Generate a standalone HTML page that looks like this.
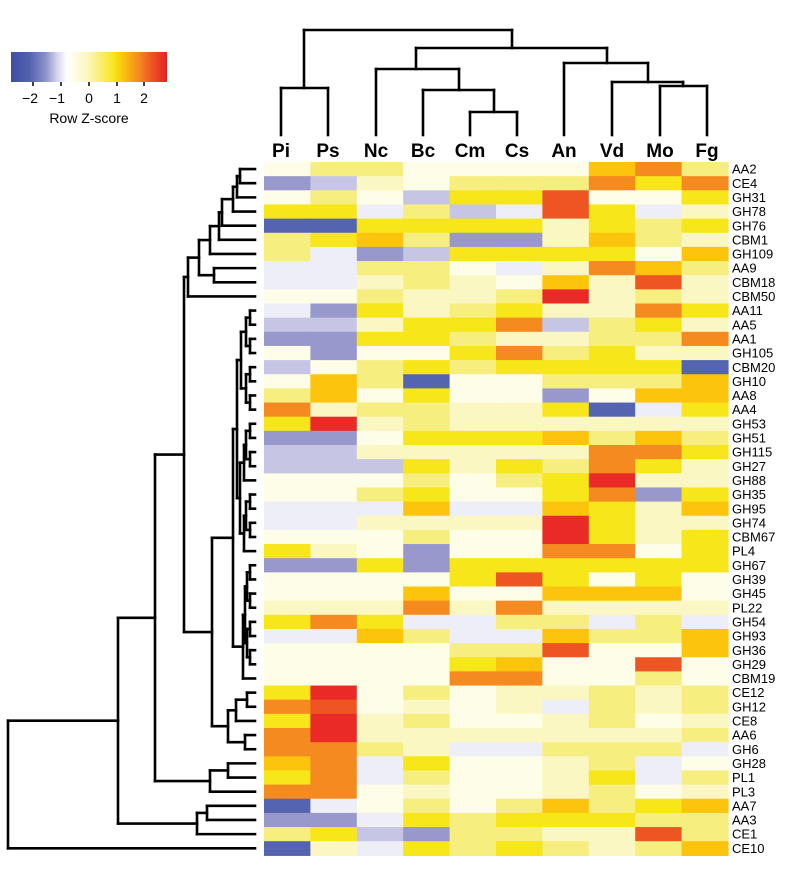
<!DOCTYPE html>
<html><head><meta charset="utf-8"><style>
html,body{margin:0;padding:0;background:#fff;}
svg{display:block;font-family:"Liberation Sans",Arial,sans-serif;}
</style></head><body>
<svg id="s" width="795" height="869" viewBox="0 0 795 869" xmlns="http://www.w3.org/2000/svg">
<defs>
<linearGradient id="cb" x1="0" x2="1" y1="0" y2="0">
<stop offset="0" stop-color="#3f4fa6"/>
<stop offset="0.12" stop-color="#5461ae"/>
<stop offset="0.22" stop-color="#8a90c8"/>
<stop offset="0.3" stop-color="#d8d8ee"/>
<stop offset="0.36" stop-color="#ffffff"/>
<stop offset="0.5" stop-color="#fbf6b8"/>
<stop offset="0.66" stop-color="#f6e61a"/>
<stop offset="0.72" stop-color="#fcc20c"/>
<stop offset="0.82" stop-color="#f48a20"/>
<stop offset="0.9" stop-color="#ef5524"/>
<stop offset="1" stop-color="#e82026"/>
</linearGradient>
</defs>
<rect x="11" y="52" width="156" height="30" fill="url(#cb)"/>
<g stroke="#000" stroke-width="1.5">
<line x1="33" y1="82" x2="33" y2="86"/><line x1="61" y1="82" x2="61" y2="86"/><line x1="89" y1="82" x2="89" y2="86"/><line x1="117" y1="82" x2="117" y2="86"/><line x1="144" y1="82" x2="144" y2="86"/>
</g>
<g font-size="14" text-anchor="middle" fill="#000">
<text x="30" y="103">−2</text><text x="57" y="103">−1</text><text x="89" y="103">0</text><text x="117" y="103">1</text><text x="144" y="103">2</text>
<text x="89" y="123">Row Z-score</text>
</g>
<g id="heat"></g>
<g id="dend" stroke="#000" stroke-width="2.6" fill="none" stroke-linecap="square"></g>
<g id="lab" font-size="13" fill="#000"></g>
<g font-size="19" font-weight="bold" text-anchor="middle" fill="#000">
<text x="281" y="157">Pi</text><text x="328" y="157">Ps</text><text x="376" y="157">Nc</text><text x="423" y="157">Bc</text><text x="470" y="157">Cm</text><text x="517" y="157">Cs</text><text x="564" y="157">An</text><text x="612" y="157">Vd</text><text x="660" y="157">Mo</text><text x="707" y="157">Fg</text>
</g>
</svg>
<script>
(function(){
var C={W:"#fdfde8",w:"#fbf7c2",l:"#f7ee80",Y:"#f6e61a",O:"#fcc40c",o:"#f48a20",R:"#ef5523",r:"#e92a26",b:"#eeeef8",p:"#c6c6e4",P:"#9898cc",D:"#5564b0"};
var rows=[
["AA2","WllWWWWOol"],["CE4","PpwWllloYo"],["GH31","WlWpYYRWWY"],["GH78","YYblpbRYbw"],["GH76","DDYYYYwYlY"],
["CBM1","lYOlPPwOlw"],["GH109","lbPpYYYYWO"],["AA9","bbllWbwoOl"],["CBM18","bbwlwWOwRw"],["CBM50","WWlwwlrwlw"],
["AA11","bPYwlYwwoY"],["AA5","ppwYYoplYw"],["AA1","PPYYlwwllo"],["GH105","WPWWYolYww"],["CBM20","pWlYlYYYYD"],
["GH10","WOlDWWlllO"],["AA8","lOWYWWPWOO"],["AA4","owllwwYDbY"],["GH53","Yrwlwwwwww"],["GH51","PPWYYYOlOl"],
["GH115","ppwwwwwooY"],["GH27","pppYwYloYw"],["GH88","WWWlWlYrww"],["GH35","WWlYWWYoPY"],["GH95","bbbObbOYwO"],
["GH74","bbwwwwrYww"],["CBM67","WWWlWWrYwY"],["PL4","YwWPWWooWY"],["GH67","PPYPYYYYYY"],["GH39","WWWWYRYWYW"],
["GH45","WWWOWWOOOW"],["PL22","wwwowowwww"],["GH54","YoYbbllblb"],["GH93","bbOlbbOllO"],["GH36","WWWWllRWWO"],
["GH29","WWWWYOWWRW"],["CBM19","WWWWooWWlW"],["CE12","YrWlWwwlwl"],["GH12","oRWwWwblwl"],["CE8","YrwlWWwlWw"],
["AA6","orwwwwwwwl"],["GH6","oolwbblllb"],["GH28","OobYWWwlbW"],["PL1","YoblWWwYbl"],["PL3","ooWwWWwlWw"],
["AA7","DbWlWlOlYO"],["AA3","PPbYlYYYll"],["CE1","lYpPllwwRl"],["CE10","DwbYlYlwlO"]];
var ns="http://www.w3.org/2000/svg",X0=264,CW=46.4,Y0=162,RH=14.15;
var heat=document.getElementById("heat"),lab=document.getElementById("lab");
function el(p,t,a){var e=document.createElementNS(ns,t);for(var k in a)e.setAttribute(k,a[k]);p.appendChild(e);return e;}
rows.forEach(function(r,i){
 for(var j=0;j<10;j++)el(heat,"rect",{x:(X0+j*CW).toFixed(2),y:(Y0+i*RH).toFixed(2),width:(CW+0.6).toFixed(2),height:(RH+0.6).toFixed(2),fill:C[r[1][j]]});
 var t=el(lab,"text",{x:732,y:(Y0+(i+0.5)*RH+4.6).toFixed(1)});t.textContent=r[0];
});
var d=document.getElementById("dend");
function line(x1,y1,x2,y2){el(d,"line",{x1:x1,y1:y1,x2:x2,y2:y2});}
var LX=255;
function draw(n){
 if(typeof n==="number")return [LX,Y0+(n+0.5)*RH];
 var a=draw(n[0]),b=draw(n[1]),x=n[2];
 line(x,a[1],a[0],a[1]);line(x,b[1],b[0],b[1]);line(x,a[1],x,b[1]);
 return [x,(a[1]+b[1])/2];
}
function pairs(s,e,x){var L=[];for(var i=s;i<=e;i+=2){L.push(i+1<=e?[i,i+1,x]:i);}return L;}
function bal(list,x,dx){while(list.length>1){var n=[];for(var i=0;i<list.length;i+=2){n.push(i+1<list.length?[list[i],list[i+1],x]:list[i]);}list=n;x-=dx;}return list[0];}
var tp=[[[[[[[[0,1,240],2,237],3,233],4,222],5,219],6,210],[7,8,214],199],9,188];
var g1=bal(pairs(10,13,250),246,2),g2=bal(pairs(14,17,250),246,2),g3=bal(pairs(18,22,250),246,2),g4=bal(pairs(23,27,250),246,2),g5=bal(pairs(28,36,250),247,2);
var mid=[[[g1,g2,241],[g3,g4,240],237],g5,233];
var ce=[[[37,38,247],39,236],[40,41,245],228];
var upper=[tp,[mid,ce,212],184];
var lowerA=[[42,43,228],44,210];
var n155=[upper,lowerA,155];
var n197=[[45,46,207],47,197];
var root=[[n155,n197,118],48,8];
draw(root);
var T=[[281,135,281,88],[328,135,328,88],[281,88,328,88],[304,88,304,30],[304,30,512,30],[512,30,512,48],
[416,48,607,48],[416,48,416,69],[376,69,459,69],[376,69,376,135],[459,69,459,90],[423,90,494,90],[423,90,423,135],
[494,90,494,112],[470,112,517,112],[470,112,470,135],[517,112,517,135],
[607,48,607,63],[564,63,648,63],[564,63,564,135],[648,63,648,82],[612,82,683,82],[612,82,612,135],[683,82,683,86],
[660,86,707,86],[660,86,660,135],[707,86,707,135]];
T.forEach(function(a){line(a[0],a[1],a[2],a[3]);});
})();
</script>
</body></html>
